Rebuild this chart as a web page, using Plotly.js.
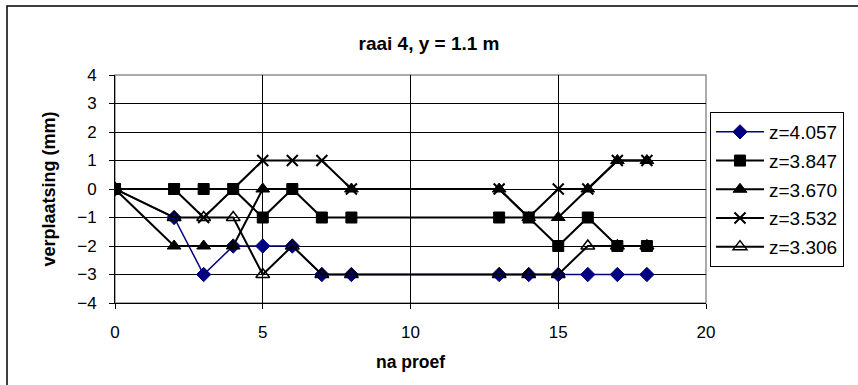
<!DOCTYPE html>
<html>
<head>
<meta charset="utf-8">
<script src="https://cdn.plot.ly/plotly-3.0.1.min.js"></script>
<style>html,body{margin:0;padding:0;background:#fff;}#chart{width:858px;height:385px;}</style>
</head>
<body>
<div id="chart"></div>
<script>
const naProef = [0, 2, 3, 4, 5, 6, 7, 8, 13, 14, 15, 16, 17, 18];
const z4057 = [0, -1, -3, -2, -2, -2, -3, -3, -3, -3, -3, -3, -3, -3];
const z3847 = [0, 0, 0, 0, -1, 0, -1, -1, -1, -1, -2, -1, -2, -2];
const z3670 = [0, -2, -2, -2, 0, null, null, 0, 0, -1, -1, 0, 1, 1];
const z3532 = [0, 0, -1, 0, 1, 1, 1, 0, 0, -1, 0, 0, 1, 1];
const z3306 = [0, -1, -1, -1, -3, -2, -3, -3, -3, -3, -3, -2, -2, -2];
const seriesNames = ['z=4.057', 'z=3.847', 'z=3.670', 'z=3.532', 'z=3.306'];

const FONT = 'Liberation Sans, Arial, sans-serif';

function tr(y, name, color, symbol, size, lw, mlw, group) {
  return {
    x: naProef, y: y, name: name, type: 'scatter', mode: 'lines+markers',
    connectgaps: true, legendgroup: group,
    line: {color: color, width: lw},
    marker: {symbol: symbol, size: size, color: color, line: {color: color, width: mlw}}
  };
}

const data = [
  tr(z4057, seriesNames[0], '#000080', 'diamond', 11, 1.5, 1, 'a'),
  tr(z3847, seriesNames[1], '#000000', 'square', 11, 2, 1, 'b'),
  tr(z3670, seriesNames[2], '#000000', 'triangle-up', 12, 2, 1, 'c'),
  tr(z3532, seriesNames[3], '#000000', 'x-thin-open', 11, 2, 2, 'd'),
  tr(z3306, seriesNames[4], '#000000', 'triangle-up-open', 12, 2, 1.5, 'e')
];

const layout = {
  width: 858, height: 385,
  margin: {l: 115, r: 152, t: 75, b: 82},
  paper_bgcolor: '#ffffff', plot_bgcolor: '#ffffff',
  font: {family: FONT, size: 17, color: '#000'},
  showlegend: true,
  title: {text: '<b>raai 4, y = 1.1 m</b>', font: {family: FONT, size: 19, color: '#000'},
          x: 0.5, xref: 'container', y: 1 - 43/385, yref: 'container', yanchor: 'middle'},
  xaxis: {
    range: [0, 20], dtick: 5, tick0: 0,
    showgrid: true, gridcolor: '#000', gridwidth: 1,
    zeroline: false, showline: true, linecolor: '#000', linewidth: 1,
    ticks: 'outside', ticklen: 5, tickcolor: '#000', tickwidth: 1,
    ticklabelstandoff: 9,
    tickfont: {family: FONT, size: 17, color: '#000'},
    title: {text: '<b>na proef</b>', font: {family: FONT, size: 17.5, color: '#000'}, standoff: 14},
    automargin: false
  },
  yaxis: {
    range: [-4, 4], dtick: 1, tick0: 0,
    showgrid: true, gridcolor: '#000', gridwidth: 1,
    zeroline: false, showline: true, linecolor: '#000', linewidth: 1,
    ticks: 'outside', ticklen: 5, tickcolor: '#000', tickwidth: 1,
    ticklabelstandoff: 9,
    tickfont: {family: FONT, size: 17, color: '#000'},
    title: {text: '<b>verplaatsing (mm)</b>', font: {family: FONT, size: 18, color: '#000'}, standoff: 16},
    automargin: false
  },
  legend: {
    x: (710 - 115) / 591, xanchor: 'left',
    y: (303 - 112) / 228, yanchor: 'top',
    bgcolor: '#ffffff', bordercolor: '#000', borderwidth: 1,
    font: {family: FONT, size: 19, color: '#000'},
    tracegroupgap: 1, itemwidth: 48
  },
  shapes: [
    {type: 'rect', xref: 'paper', yref: 'paper', x0: 0, x1: 1, y0: 0, y1: 1,
     line: {color: '#909090', width: 1.5}, layer: 'below'},
    {type: 'rect', xref: 'paper', yref: 'paper',
     x0: (7 - 115) / 591, x1: (880 - 115) / 591, y0: (303 - 400) / 228, y1: (303 - 6) / 228,
     line: {color: '#000', width: 1.5}, layer: 'below'}
  ]
};

Plotly.newPlot('chart', data, layout, {staticPlot: true, displayModeBar: false});
</script>
</body>
</html>
